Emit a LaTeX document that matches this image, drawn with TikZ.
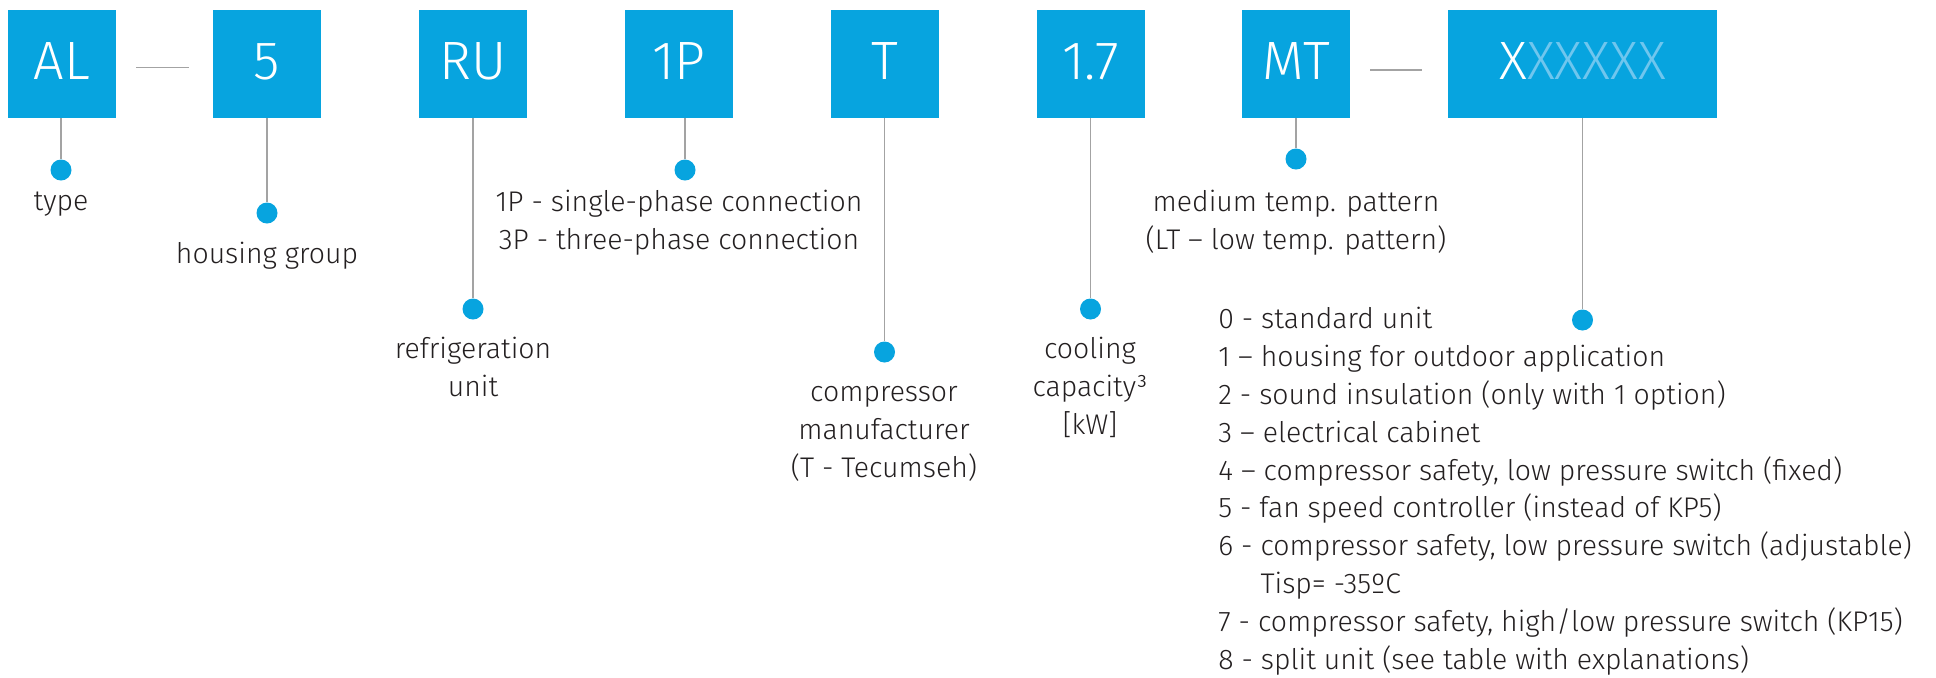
\documentclass[tikz,border=0pt]{standalone}
\usepackage{fontspec}
\setmainfont{Fira Sans Light}
\definecolor{danblue}{HTML}{07A4DF}
\definecolor{lightx}{HTML}{6FC6EE}
\definecolor{linegray}{HTML}{A3A3A3}
\definecolor{txt}{HTML}{231F20}
\begin{document}
\begin{tikzpicture}[x=0.5pt,y=-0.5pt,
		box/.style={fill=danblue,text=white,inner sep=0pt,minimum width=54pt,minimum height=54pt,font=\fontsize{27}{30}\selectfont,text height=18.6pt,text depth=3.3pt},
		dot/.style={circle,fill=danblue,inner sep=0pt,minimum size=10.5pt},
		lead/.style={draw=linegray,line width=0.6pt},
		label/.style={text=txt,font=\fontsize{14.2}{18.9}\selectfont,align=center,anchor=base,inner sep=0pt}]
			\useasboundingbox (0,0) rectangle (1936,677);
			\node[box] (al) at (62,64) {AL};
			\node[box] (hg) at (267,64) {5};
			\node[box] (ru) at (473,64) {RU};
			\node[box] (ph) at (679,64) {1P};
			\node[box] (mf) at (885,64) {T};
			\node[box] (cc) at (1091,64) {1.7};
			\node[box] (mt) at (1296,64) {MT};
			\node[box,minimum width=134.5pt] (op) at (1582.5,64) {X\textcolor{lightx}{XXXXX}};
			\node[dot] (d-al) at (61,170) {};
			\node[dot] (d-hg) at (267,213) {};
			\node[dot] (d-ru) at (473,309) {};
			\node[dot] (d-ph) at (685,170) {};
			\node[dot] (d-mf) at (884.5,352) {};
			\node[dot] (d-cc) at (1090.5,309) {};
			\node[dot] (d-mt) at (1296,159) {};
			\node[dot] (d-op) at (1582.5,320) {};
			\draw[lead] (al.south -| d-al) -- (d-al);
			\draw[lead] (hg.south) -- (d-hg);
			\draw[lead] (ru.south) -- (d-ru);
			\draw[lead] (ph.south -| d-ph) -- (d-ph);
			\draw[lead] (mf.south -| d-mf) -- (d-mf);
			\draw[lead] (cc.south -| d-cc) -- (d-cc);
			\draw[lead] (mt.south) -- (d-mt);
			\draw[lead] (op.south) -- (d-op);
			\draw[lead] ([xshift=10pt,yshift=-1.8pt]al.east) -- ([xshift=-12pt,yshift=-1.8pt]hg.west);
			\draw[lead] ([xshift=10pt,yshift=-3pt]mt.east) -- ([xshift=-12.7pt,yshift=-3pt]op.west);
			\node[label] (t-al) at (61,210) {type};
			\node[label] (t-hg) at (267,263) {housing group};
			\node[label] (t-ph) at (679,249) {1P - single-phase connection\\3P - three-phase connection};
			\node[label] (t-ru) at (473,396) {refrigeration\\unit};
			\node[label] (t-mf) at (884,477) {compressor\\manufacturer\\(T - Tecumseh)};
			\node[label] (t-cc) at (1090,434) {cooling\\capacity³\\{[kW]}};
			\node[label] (t-mt) at (1296,249) {medium temp. pattern\\(LT – low temp. pattern)};
			\node[label,align=left,anchor=base west] (t-op) at (1218,669) {0 - standard unit\\1 – housing for outdoor application\\2 - sound insulation (only with 1 option)\\3 – electrical cabinet\\4 – compressor safety, low pressure switch (fixed)\\5 - fan speed controller (instead of KP5)\\6 - compressor safety, low pressure switch (adjustable)\\\phantom{6 - }Tisp= -35ºC\\7 - compressor safety, high/low pressure switch (KP15)\\8 - split unit (see table with explanations)};
\end{tikzpicture}
\end{document}
